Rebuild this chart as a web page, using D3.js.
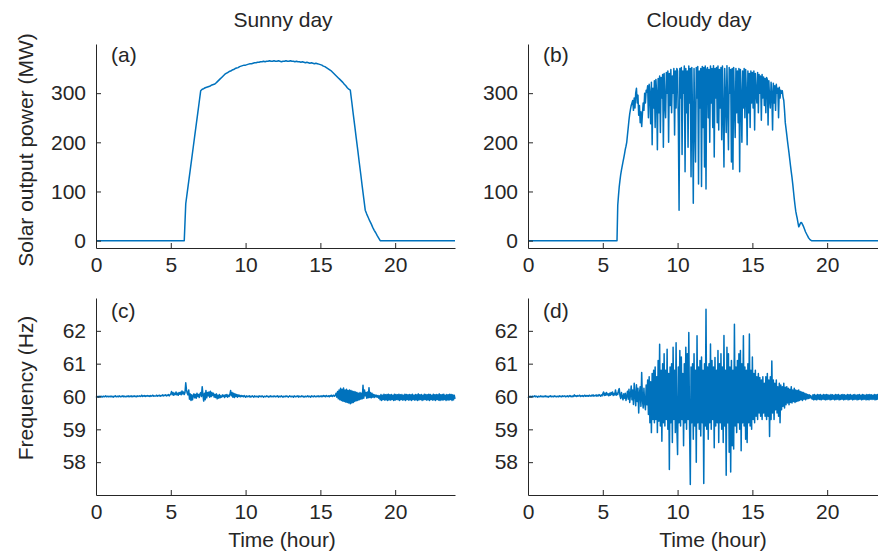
<!DOCTYPE html>
<html>
<head>
<meta charset="utf-8">
<script src="https://cdn.jsdelivr.net/npm/d3@7"></script>
<style>
  body { margin: 0; background: #fff; }
  svg text { font-family: "Liberation Sans", Arial, Helvetica, sans-serif; fill: #262626; }
  .axis path, .axis line { stroke: #262626; stroke-width: 1; }
  .axis text { font-size: 21px; fill: #262626; }
</style>
</head>
<body>
<svg id="fig" width="878" height="554"></svg>
<script>
// Sampling grids over the 24-hour day
const hoursCoarse = d3.range(241).map(i => +(i * 0.1).toFixed(2));   // every 0.1 h
const hoursFine = d3.range(481).map(i => +(i * 0.05).toFixed(2));    // every 0.05 h

const hourTicks = [0, 5, 10, 15, 20];
const powerTicks = [0, 100, 200, 300];
const freqTicks = [58, 59, 60, 61, 62];

const columnTitles = ["Sunny day", "Cloudy day"];
const panelLetters = ["(a)", "(b)", "(c)", "(d)"];

// Solar output power (MW), sunny day — 0.1 h samples, one row per hour
const sunnyPower = [
  0, 0, 0, 0, 0, 0, 0, 0, 0, 0,
  0, 0, 0, 0, 0, 0, 0, 0, 0, 0,
  0, 0, 0, 0, 0, 0, 0, 0, 0, 0,
  0, 0, 0, 0, 0, 0, 0, 0, 0, 0,
  0, 0, 0, 0, 0, 0, 0, 0, 0, 0,
  0, 0, 0, 0, 0, 0, 0, 0, 0, 0,
  75, 98, 121, 144, 167, 190, 213, 236, 259, 282,
  305, 308, 309, 311, 312, 313, 314, 316, 317, 318,
  320, 323, 326, 329, 332, 335, 338, 340, 342, 344,
  345, 347, 348, 350, 351, 352, 354, 355, 356, 357,
  357, 358, 359, 360, 360, 361, 362, 362, 363, 363,
  364, 364, 365, 364, 365, 365, 366, 365, 365, 366,
  365, 365, 366, 365, 364, 365, 365, 366, 365, 365,
  366, 365, 365, 364, 365, 364, 364, 363, 364, 363,
  362, 363, 362, 361, 362, 361, 360, 361, 360, 359,
  358, 357, 355, 354, 352, 350, 348, 346, 343, 340,
  337, 334, 331, 328, 325, 322, 318, 315, 311, 308,
  306, 282, 257, 233, 208, 184, 159, 135, 110, 86,
  62, 54, 47, 40, 34, 27, 21, 16, 10, 5,
  0, 0, 0, 0, 0, 0, 0, 0, 0, 0,
  0, 0, 0, 0, 0, 0, 0, 0, 0, 0,
  0, 0, 0, 0, 0, 0, 0, 0, 0, 0,
  0, 0, 0, 0, 0, 0, 0, 0, 0, 0,
  0, 0, 0, 0, 0, 0, 0, 0, 0, 0,
  0
];

// Solar output power (MW), cloudy day — 0.05 h samples, one row per hour
const cloudyPower = [
  0, 0, 0, 0, 0, 0, 0, 0, 0, 0, 0, 0, 0, 0, 0, 0, 0, 0, 0, 0,
  0, 0, 0, 0, 0, 0, 0, 0, 0, 0, 0, 0, 0, 0, 0, 0, 0, 0, 0, 0,
  0, 0, 0, 0, 0, 0, 0, 0, 0, 0, 0, 0, 0, 0, 0, 0, 0, 0, 0, 0,
  0, 0, 0, 0, 0, 0, 0, 0, 0, 0, 0, 0, 0, 0, 0, 0, 0, 0, 0, 0,
  0, 0, 0, 0, 0, 0, 0, 0, 0, 0, 0, 0, 0, 0, 0, 0, 0, 0, 0, 0,
  0, 0, 0, 0, 0, 0, 0, 0, 0, 0, 0, 0, 0, 0, 0, 0, 0, 0, 0, 0,
  72, 92, 110, 123, 135, 144, 152, 160, 168, 176, 185, 192, 200, 215, 230, 245, 258, 267, 275, 280,
  285, 265, 290, 270, 300, 310, 280, 296, 255, 275, 240, 262, 232, 258, 280, 265, 300, 280, 306, 302,
  315, 250, 318, 300, 238, 322, 195, 310, 270, 325, 230, 328, 300, 185, 330, 260, 335, 220, 332, 290,
  338, 190, 340, 280, 250, 342, 300, 345, 200, 340, 275, 348, 260, 335, 300, 350, 215, 345, 270, 350,
  345, 240, 62, 350, 290, 352, 175, 345, 300, 355, 140, 350, 260, 345, 190, 355, 280, 350, 130, 352,
  260, 76, 350, 240, 160, 352, 290, 354, 115, 345, 270, 350, 110, 354, 230, 352, 150, 355, 105, 348,
  352, 250, 348, 200, 355, 280, 350, 230, 356, 170, 350, 290, 352, 240, 355, 225, 348, 270, 352, 205,
  355, 260, 150, 350, 290, 220, 356, 270, 185, 352, 300, 348, 160, 350, 145, 352, 280, 210, 350, 260,
  345, 240, 350, 140, 348, 290, 200, 345, 270, 350, 250, 348, 300, 195, 345, 260, 340, 230, 345, 280,
  342, 270, 345, 225, 340, 300, 280, 342, 260, 338, 300, 335, 245, 338, 290, 333, 275, 330, 260, 332,
  328, 235, 325, 290, 270, 322, 300, 225, 320, 280, 315, 265, 318, 300, 310, 250, 312, 290, 306, 300,
  305, 292, 285, 265, 240, 228, 215, 202, 190, 178, 165, 152, 140, 128, 115, 100, 85, 72, 60, 52,
  45, 36, 28, 31, 35, 37, 36, 33, 30, 26, 22, 18, 15, 12, 9, 6, 4, 2, 1, 0,
  0, 0, 0, 0, 0, 0, 0, 0, 0, 0, 0, 0, 0, 0, 0, 0, 0, 0, 0, 0,
  0, 0, 0, 0, 0, 0, 0, 0, 0, 0, 0, 0, 0, 0, 0, 0, 0, 0, 0, 0,
  0, 0, 0, 0, 0, 0, 0, 0, 0, 0, 0, 0, 0, 0, 0, 0, 0, 0, 0, 0,
  0, 0, 0, 0, 0, 0, 0, 0, 0, 0, 0, 0, 0, 0, 0, 0, 0, 0, 0, 0,
  0, 0, 0, 0, 0, 0, 0, 0, 0, 0, 0, 0, 0, 0, 0, 0, 0, 0, 0, 0,
  0
];

// Grid frequency (Hz), sunny day — 0.05 h samples, one row per hour
const sunnyFreq = [
  59.97, 59.99, 60.00, 59.98, 60.01, 59.99, 60.00, 60.01, 59.98, 60.00, 60.01, 59.99, 60.00, 60.02, 59.99, 60.00, 60.01, 59.99, 60.00, 60.01,
  59.99, 60.01, 60.00, 59.98, 60.01, 60.00, 60.02, 59.99, 60.00, 60.01, 59.99, 60.02, 60.00, 59.99, 60.01, 60.00, 60.02, 59.99, 60.01, 60.00,
  59.99, 60.01, 60.00, 60.02, 59.99, 60.01, 60.00, 60.02, 59.99, 60.01, 60.00, 60.02, 60.00, 60.01, 59.99, 60.02, 60.00, 60.01, 60.02, 60.00,
  60.01, 60.04, 60.00, 60.02, 60.01, 60.03, 60.00, 60.02, 60.01, 60.03, 60.01, 60.02, 60.00, 60.03, 60.01, 60.02, 60.04, 60.01, 60.02, 60.01,
  60.02, 60.04, 60.01, 60.03, 60.02, 60.04, 60.01, 60.03, 60.02, 60.05, 60.02, 60.04, 60.03, 60.05, 60.02, 60.04, 60.03, 60.06, 60.02, 60.05,
  60.08, 60.15, 60.05, 60.12, 60.04, 60.10, 60.06, 60.14, 60.05, 60.10, 60.04, 60.12, 60.07, 60.13, 60.05, 60.17, 60.08, 60.14, 60.06, 60.12,
  60.42, 60.20, 60.10, 60.05, 60.20, 59.92, 60.08, 59.88, 60.05, 59.90, 60.02, 60.08, 59.96, 60.06, 59.95, 60.10, 60.00, 60.06, 59.97, 60.08,
  60.12, 60.00, 60.30, 60.05, 59.86, 60.10, 59.90, 60.18, 59.96, 60.12, 60.02, 60.14, 59.98, 60.16, 60.00, 60.12, 60.03, 60.10, 59.98, 60.06,
  59.97, 60.08, 59.93, 60.04, 59.95, 60.06, 59.96, 60.02, 59.98, 60.05, 60.00, 60.04, 59.97, 60.05, 60.00, 60.06, 59.98, 60.04, 60.00, 60.06,
  60.18, 60.02, 60.12, 59.98, 60.10, 59.97, 60.08, 60.00, 60.06, 59.98, 60.05, 60.00, 60.04, 59.99, 60.03, 60.00, 60.02, 59.99, 60.03, 60.00,
  59.98, 60.02, 59.99, 60.01, 60.00, 60.02, 59.98, 60.01, 59.99, 60.02, 60.00, 59.98, 60.02, 60.00, 59.99, 60.01, 60.00, 59.98, 60.02, 60.00,
  60.01, 59.99, 60.02, 60.00, 59.98, 60.01, 60.00, 59.99, 60.02, 60.00, 60.01, 59.98, 60.00, 60.02, 59.99, 60.01, 60.00, 59.99, 60.02, 60.00,
  59.99, 60.01, 60.00, 60.02, 59.98, 60.00, 60.01, 59.99, 60.02, 60.00, 59.98, 60.01, 60.00, 59.99, 60.02, 60.00, 60.01, 59.98, 60.00, 60.02,
  60.00, 59.99, 60.01, 60.00, 59.98, 60.02, 60.00, 59.99, 60.01, 60.00, 60.02, 59.98, 60.01, 60.00, 59.99, 60.02, 60.00, 60.01, 59.98, 60.00,
  60.01, 59.99, 60.00, 60.02, 59.99, 60.01, 60.00, 59.98, 60.02, 60.00, 60.01, 59.99, 60.02, 60.00, 59.99, 60.01, 60.00, 60.02, 59.99, 60.01,
  60.00, 60.02, 59.99, 60.01, 60.03, 60.00, 60.02, 59.99, 60.03, 60.01, 60.00, 60.02, 59.99, 60.03, 60.01, 60.04, 60.00, 60.02, 60.04, 60.01,
  60.03, 60.10, 59.98, 60.15, 59.93, 60.20, 59.90, 60.25, 59.88, 60.22, 59.86, 60.26, 59.85, 60.20, 59.83, 60.22, 59.82, 60.18, 59.80, 60.20,
  59.78, 60.18, 59.80, 60.16, 59.82, 60.15, 59.85, 60.14, 59.87, 60.12, 59.88, 60.10, 59.90, 60.12, 59.92, 60.10, 59.93, 60.34, 59.95, 60.20,
  60.02, 60.12, 59.95, 60.14, 59.96, 60.27, 59.97, 60.12, 59.96, 60.10, 59.98, 60.06, 59.97, 60.05, 59.99, 60.04, 59.98, 60.03, 59.95, 60.02,
  59.90, 60.06, 59.88, 60.04, 59.91, 60.07, 59.89, 60.05, 59.90, 60.06, 59.88, 60.07, 59.90, 60.05, 59.89, 60.06, 59.91, 60.04, 59.88, 60.07,
  59.89, 60.06, 59.91, 60.05, 59.90, 60.07, 59.88, 60.05, 59.91, 60.06, 59.89, 60.04, 59.90, 60.07, 59.88, 60.06, 59.91, 60.05, 59.89, 60.06,
  59.90, 60.05, 59.88, 60.07, 59.91, 60.04, 59.89, 60.06, 59.90, 60.05, 59.88, 60.08, 59.90, 60.05, 59.91, 60.06, 59.88, 60.04, 59.90, 60.07,
  59.91, 60.06, 59.89, 60.05, 59.90, 60.07, 59.88, 60.06, 59.91, 60.04, 59.89, 60.07, 59.90, 60.05, 59.88, 60.06, 59.91, 60.05, 59.89, 60.08,
  59.88, 60.05, 59.90, 60.06, 59.89, 60.07, 59.91, 60.04, 59.88, 60.06, 59.90, 60.05, 59.89, 60.07, 59.91, 60.06, 59.88, 60.05, 59.90, 60.04,
  59.93
];

// Grid frequency (Hz), cloudy day — 0.05 h samples, one row per hour
const cloudyFreq = [
  59.96, 59.98, 59.99, 60.01, 59.98, 60.00, 60.01, 59.99, 60.00, 60.02, 59.99, 60.01, 60.00, 59.98, 60.01, 60.00, 59.99, 60.02, 60.00, 59.99,
  60.01, 59.99, 60.00, 60.02, 59.99, 60.01, 60.00, 59.98, 60.01, 60.00, 60.02, 59.99, 60.01, 60.00, 59.99, 60.02, 60.00, 60.01, 59.99, 60.00,
  60.01, 59.99, 60.02, 60.00, 60.01, 59.99, 60.02, 60.00, 60.01, 60.02, 59.99, 60.01, 60.00, 60.02, 59.99, 60.01, 60.03, 60.00, 60.01, 59.99,
  60.02, 60.00, 60.05, 60.01, 60.02, 60.00, 60.03, 60.01, 60.02, 60.04, 60.00, 60.02, 60.01, 60.03, 60.00, 60.02, 60.04, 60.01, 60.03, 60.01,
  60.03, 60.01, 60.04, 60.02, 60.01, 60.04, 60.02, 60.05, 60.01, 60.03, 60.02, 60.05, 60.01, 60.04, 60.02, 60.06, 60.03, 60.01, 60.05, 60.02,
  60.08, 60.14, 60.03, 60.10, 60.04, 60.12, 60.05, 60.08, 60.02, 60.10, 60.04, 60.12, 60.06, 60.14, 60.03, 60.09, 60.05, 60.20, 60.04, 60.10,
  60.06, 60.18, 60.24, 60.02, 59.94, 60.12, 60.00, 59.90, 60.08, 59.95, 60.10, 59.88, 60.02, 60.16, 59.92, 60.22, 59.82, 60.06, 60.32, 59.90,
  60.20, 59.76, 60.40, 60.05, 59.72, 60.36, 59.85, 60.25, 59.50, 60.10, 60.30, 59.70, 60.73, 59.90, 59.65, 60.25, 59.80, 59.60, 60.35, 59.75,
  60.50, 59.45, 60.60, 59.20, 60.45, 58.90, 60.70, 59.30, 60.80, 59.20, 60.90, 59.30, 60.60, 58.90, 61.10, 59.25, 61.59, 59.10, 60.80, 58.64,
  61.00, 59.20, 61.30, 59.10, 60.80, 59.30, 61.44, 59.00, 60.70, 57.78, 60.90, 59.20, 61.00, 58.60, 61.50, 59.30, 60.80, 58.90, 61.64, 59.10,
  58.23, 60.90, 59.20, 61.40, 59.10, 61.20, 59.30, 60.70, 58.50, 61.00, 59.20, 61.50, 59.00, 61.30, 59.30, 61.95, 59.10, 57.32, 60.90, 59.20,
  61.00, 58.70, 61.30, 59.10, 60.80, 58.00, 61.85, 59.20, 60.90, 59.00, 61.10, 58.80, 61.20, 59.20, 60.80, 57.35, 61.00, 59.10, 62.66, 59.00,
  60.90, 58.70, 61.00, 59.20, 61.60, 59.00, 61.10, 59.30, 60.90, 58.44, 61.19, 59.10, 60.80, 59.20, 61.40, 58.60, 61.00, 59.20, 61.30, 59.00,
  60.90, 58.60, 61.86, 59.10, 60.80, 57.60, 61.50, 59.20, 61.30, 58.30, 60.90, 57.70, 61.10, 58.50, 60.80, 58.40, 62.20, 59.10, 60.90, 58.90,
  61.10, 59.20, 61.30, 59.00, 61.40, 58.35, 61.00, 59.20, 61.85, 59.10, 60.90, 58.70, 60.80, 58.60, 61.00, 59.20, 61.90, 59.10, 60.80, 59.00,
  61.20, 59.30, 60.70, 59.20, 60.80, 59.40, 60.60, 59.30, 60.70, 59.50, 60.58, 59.40, 60.50, 59.30, 60.60, 59.50, 60.40, 59.40, 60.60, 59.30,
  60.70, 59.40, 60.50, 58.78, 60.60, 59.30, 61.08, 59.50, 60.50, 59.30, 60.40, 59.60, 60.50, 59.50, 60.30, 59.40, 60.40, 59.20, 60.35, 59.60,
  60.30, 59.70, 60.40, 59.65, 60.28, 59.75, 60.30, 59.80, 60.25, 59.75, 60.22, 59.82, 60.30, 59.80, 60.20, 59.85, 60.25, 59.82, 60.20, 59.85,
  60.18, 59.86, 60.20, 59.88, 60.15, 59.90, 60.14, 59.88, 60.12, 59.92, 60.10, 59.90, 60.08, 59.93, 60.06, 59.94, 60.05, 59.95, 60.03, 59.96,
  59.92, 60.05, 59.90, 60.06, 59.91, 60.04, 59.90, 60.06, 59.92, 60.05, 59.91, 60.06, 59.90, 60.04, 59.92, 60.06, 59.91, 60.05, 59.90, 60.06,
  59.91, 60.05, 59.92, 60.04, 59.90, 60.06, 59.91, 60.05, 59.92, 60.04, 59.90, 60.06, 59.91, 60.05, 59.92, 60.06, 59.90, 60.04, 59.91, 60.05,
  59.92, 60.06, 59.90, 60.05, 59.91, 60.04, 59.92, 60.06, 59.90, 60.05, 59.91, 60.06, 59.92, 60.04, 59.90, 60.05, 59.91, 60.06, 59.92, 60.04,
  59.90, 60.05, 59.91, 60.06, 59.92, 60.04, 59.90, 60.06, 59.91, 60.05, 59.92, 60.04, 59.90, 60.06, 59.91, 60.05, 59.90, 60.06, 59.92, 60.05,
  59.91, 60.04, 59.92, 60.06, 59.90, 60.05, 59.91, 60.06, 59.92, 60.04, 59.90, 60.05, 59.91, 60.06, 59.92, 60.05, 59.90, 60.04, 59.91, 60.06,
  60.00
];

const lineColor = "#0072BD";
const svg = d3.select("#fig");

// Panel frames: two columns (sunny / cloudy), two rows (power / frequency)
const columns = [[96, 455], [528, 887]];
const rows = [
  { range: [248, 44], domain: [-15, 400], ticks: powerTicks },
  { range: [495, 298], domain: [57, 63], ticks: freqTicks }
];
const series = [
  [{ t: hoursCoarse, v: sunnyPower }, { t: hoursFine, v: cloudyPower }],
  [{ t: hoursFine, v: sunnyFreq }, { t: hoursFine, v: cloudyFreq }]
];

rows.forEach((row, r) => {
  columns.forEach((colRange, c) => {
    const x = d3.scaleLinear().domain([0, 24]).range(colRange);
    const y = d3.scaleLinear().domain(row.domain).range(row.range);
    const g = svg.append("g");
    const s = series[r][c];

    const line = d3.line()
      .x((d, i) => x(s.t[i]))
      .y(d => y(d));

    g.append("path")
      .datum(s.v)
      .attr("fill", "none")
      .attr("stroke", lineColor)
      .attr("stroke-width", 1.5)
      .attr("stroke-linejoin", "round")
      .attr("d", line);

    g.append("g")
      .attr("class", "axis")
      .attr("transform", `translate(0,${row.range[0]})`)
      .call(d3.axisBottom(x).tickValues(hourTicks).tickFormat(d3.format("d"))
        .tickSizeInner(-5).tickSizeOuter(0).tickPadding(9));

    g.append("g")
      .attr("class", "axis")
      .attr("transform", `translate(${colRange[0]},0)`)
      .call(d3.axisLeft(y).tickValues(row.ticks).tickFormat(d3.format("d"))
        .tickSizeInner(-5).tickSizeOuter(0).tickPadding(10));

    g.append("text")
      .attr("x", colRange[0] + 15)
      .attr("y", r === 0 ? 62 : 318)
      .attr("font-size", 21)
      .text(panelLetters[r * 2 + c]);
  });
});

svg.selectAll(".axis").attr("font-family", null).attr("font-size", null);

// Column titles
[283, 699].forEach((cx, i) => {
  svg.append("text")
    .attr("x", cx).attr("y", 27)
    .attr("text-anchor", "middle")
    .attr("font-size", 21)
    .text(columnTitles[i]);
});

// Axis titles
[282, 713].forEach(cx => {
  svg.append("text")
    .attr("x", cx).attr("y", 547)
    .attr("text-anchor", "middle")
    .attr("font-size", 21)
    .text("Time (hour)");
});

svg.append("text")
  .attr("transform", "translate(33,150) rotate(-90)")
  .attr("text-anchor", "middle")
  .attr("font-size", 21)
  .text("Solar output power (MW)");

svg.append("text")
  .attr("transform", "translate(33,388) rotate(-90)")
  .attr("text-anchor", "middle")
  .attr("font-size", 21)
  .text("Frequency (Hz)");
</script>
</body>
</html>
